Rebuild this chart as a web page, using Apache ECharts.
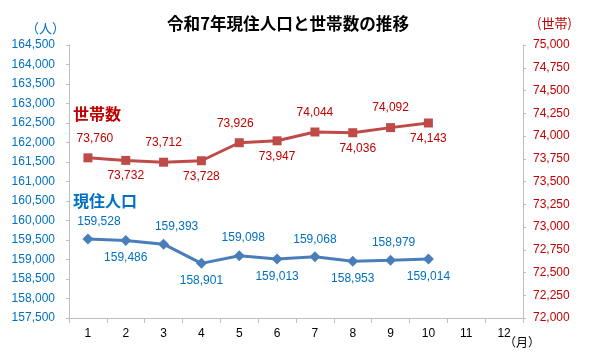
<!DOCTYPE html>
<html><head><meta charset="utf-8">
<script src="https://cdn.jsdelivr.net/npm/echarts@6/dist/echarts.min.js"></script>
<style>html,body{margin:0;padding:0;background:#fff}#c{width:600px;height:359px}</style>
</head><body><div id="c"></div>
<script>
const months = ['1','2','3','4','5','6','7','8','9','10','11','12'];
const population = [159528,159486,159393,158901,159098,159013,159068,158953,158979,159014];
const households = [73760,73732,73712,73728,73926,73947,74044,74036,74092,74143];
const leftTicks = {min:157500, max:164500, interval:500};
const rightTicks = {min:72000, max:75000, interval:250};

const BLUE='#0070C0', RED='#C00000';
const NUM_FONT='"Liberation Sans", Arial, sans-serif';
const JP_FONT='"Noto Sans CJK JP", sans-serif';
const fmt = v => Number(v).toLocaleString('en-US');

function withLabels(arr, color, distTop, distBottom, offsets){
  return arr.map((v,i)=>({value:v, label:{show:true,
    position: i%2===0?'top':'bottom', distance: i%2===0?distTop:distBottom,
    offset: [(offsets && offsets[i]) || 0, 0],
    color:color, fontSize:12, fontFamily:NUM_FONT, formatter:p=>fmt(p.value)}}));
}

const chart = echarts.init(document.getElementById('c'), null, {renderer:'canvas'});
chart.setOption({
  animation:false,
  grid:{left:69, right:77, top:45, bottom:41},
  xAxis:{type:'category', data:months, boundaryGap:true,
    axisLine:{lineStyle:{color:'#bfbfbf'}},
    axisTick:{show:true, length:5, lineStyle:{color:'#bfbfbf'}},
    axisLabel:{color:'#000', fontSize:12, fontFamily:NUM_FONT, margin:10}},
  yAxis:[
    {type:'value', min:leftTicks.min, max:leftTicks.max, interval:leftTicks.interval,
     splitLine:{show:false},
     axisLine:{show:true, lineStyle:{color:'#bfbfbf'}},
     axisTick:{show:true, length:3, lineStyle:{color:'#bfbfbf'}},
     axisLabel:{color:BLUE, fontSize:12, fontFamily:NUM_FONT, margin:14, formatter:v=>fmt(v)}},
    {type:'value', position:'right', min:rightTicks.min, max:rightTicks.max, interval:rightTicks.interval,
     splitLine:{show:false},
     axisLine:{show:true, lineStyle:{color:'#bfbfbf'}},
     axisTick:{show:true, length:3, lineStyle:{color:'#bfbfbf'}},
     axisLabel:{color:RED, fontSize:12, fontFamily:NUM_FONT, margin:10, formatter:v=>fmt(v)}}
  ],
  graphic:[
    {type:'text', x:288, y:24, style:{text:'令和7年現住人口と世帯数の推移', fill:'#000', align:'center', verticalAlign:'middle', font:'bold 16.6px '+JP_FONT}},
    {type:'text', left:26, top:22, style:{text:'（人）', fill:BLUE, font:'13px '+JP_FONT}},
    {type:'text', left:537, top:17, style:{text:'(世帯)', fill:RED, font:'13px '+JP_FONT}},
    {type:'text', left:504, top:336, style:{text:'（月）', fill:'#000', font:'12px '+JP_FONT}},
    {type:'text', left:73, top:106, style:{text:'世帯数', fill:RED, font:'bold 16px '+JP_FONT}},
    {type:'text', left:73, top:193, style:{text:'現住人口', fill:BLUE, font:'bold 16px '+JP_FONT}}
  ],
  series:[
    {name:'現住人口', type:'line', yAxisIndex:0, data:withLabels(population, BLUE, 6, 6, [11,0,13,0,4,0,0,0,3,0]),
     symbol:'diamond', symbolSize:11,
     lineStyle:{color:'#4A7EBB', width:3}, itemStyle:{color:'#4A7EBB'}},
    {name:'世帯数', type:'line', yAxisIndex:1, data:withLabels(households, RED, 9, 5, [7,0,0,0,-4,0,0,5,0,0]),
     symbol:'rect', symbolSize:9,
     lineStyle:{color:'#BE4B48', width:3}, itemStyle:{color:'#BE4B48'}}
  ]
});
</script></body></html>
